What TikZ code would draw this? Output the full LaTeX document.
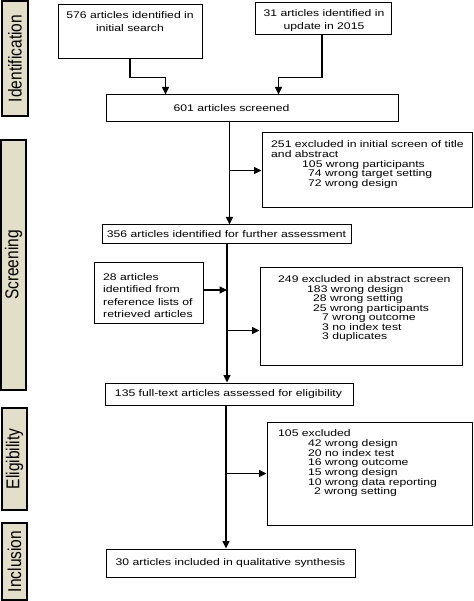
\documentclass[tikz,border=0pt]{standalone}
\usepackage{fontspec}
\setmainfont{Liberation Sans}[FakeStretch=1.27]
\newfontfamily\sidefont{Liberation Sans}
\usetikzlibrary{arrows.meta,calc}
\definecolor{barfill}{RGB}{226,222,200}
\begin{document}
\begin{tikzpicture}[x=1pt,y=-1pt,
  box/.style={draw=black,line width=1pt,inner sep=0pt,fill=white},
  txt/.style={inner sep=0pt,font=\fontsize{9.6}{9.7}\selectfont},
  bar/.style={draw=black,line width=1.4pt,fill=barfill,inner sep=0pt,rotate=90,
    font=\sidefont\fontsize{15.5}{15.5}\selectfont},
  arr/.style={line width=1.2pt,-{Triangle[length=7.5pt,width=7pt]}}]
\useasboundingbox (0,0) rectangle (473,601);
% phase bars
\node[bar,minimum width=115,minimum height=26] (idbar) at (15,58.5) {\scalebox{1}[1.2]{Identification}};
\node[bar,minimum width=250,minimum height=25] (scbar) at (13.5,265) {\scalebox{1}[1.2]{Screening}};
\node[bar,minimum width=102,minimum height=25] (elbar) at (14.5,459) {\scalebox{1}[1.2]{Eligibility}};
\node[bar,minimum width=77,minimum height=25] (inbar) at (14.5,561.5) {\scalebox{1}[1.2]{Inclusion}};
% boxes
\node[box,minimum width=144,minimum height=54] (A) at (130,32) {};
\node[txt,align=center,font=\fontsize{9.6}{13}\selectfont] (At) at (130,21.5) {576 articles identified in\\initial search};
\node[box,minimum width=136,minimum height=32] (B) at (323,19) {};
\node[txt,align=center,font=\fontsize{9.6}{13}\selectfont] (Bt) at (324,20.5) {31 articles identified in\\update in 2015};
\node[box,minimum width=292,minimum height=27] (C) at (252,108.5) {};
\node[txt] (Ct) at (231.5,108.5) {601 articles screened};
\node[box,minimum width=210,minimum height=75] (E) at (367,170.5) {};
\node[txt,align=left,anchor=north west] (Et) at (271,140.5) {251 excluded in initial screen of title\\and abstract\\\hspace*{31pt}105 wrong participants\\\hspace*{37pt}74 wrong target setting\\\hspace*{37pt}72 wrong design};
\node[box,minimum width=249,minimum height=18] (D) at (226.5,234) {};
\node[txt] (Dt) at (226.5,234) {356 articles identified for further assessment};
\node[box,minimum width=109,minimum height=61] (G) at (148.5,292.5) {};
\node[txt,align=left,anchor=north west,font=\fontsize{9.6}{12.3}\selectfont] (Gt) at (103,273.5) {28 articles\\identified from\\reference lists of\\retrieved articles};
\node[box,minimum width=202,minimum height=98] (H) at (361,316) {};
\node[txt,align=left,anchor=north west,font=\fontsize{9.6}{9.5}\selectfont] (Ht) at (278,275.5) {249 excluded in abstract screen\\\hspace*{29pt}183 wrong design\\\hspace*{35pt}28 wrong setting\\\hspace*{35pt}25 wrong participants\\\hspace*{44pt}7 wrong outcome\\\hspace*{44pt}3 no index test\\\hspace*{44pt}3 duplicates};
\node[box,minimum width=248,minimum height=22] (F) at (229,394) {};
\node[txt] (Ft) at (228.5,394) {135 full-text articles assessed for eligibility};
\node[box,minimum width=205,minimum height=103] (I) at (369.5,473.5) {};
\node[txt,align=left,anchor=north west] (It) at (278,429.5) {105 excluded\\\hspace*{30pt}42 wrong design\\\hspace*{30pt}20 no index test\\\hspace*{30pt}16 wrong outcome\\\hspace*{30pt}15 wrong design\\\hspace*{30pt}10 wrong data reporting\\\hspace*{36pt}2 wrong setting};
\node[box,minimum width=249,minimum height=28] (J) at (230.5,563) {};
\node[txt] (Jt) at (230.5,563) {30 articles included in qualitative synthesis};
% connectors
\coordinate (ca) at ($(C.north west)+(60,0)$);
\coordinate (cb) at ($(C.north west)+(173,0)$);
\draw[arr] (A.south) -- ++(0,18) -| (ca);
\draw[arr] ($(B.south)+(-1,0)$) -- ++(0,42) -| (cb);
\coordinate (c1) at ($(C.south west)+(124,0)$);
\draw[arr] (c1) -- (c1 |- D.north);
\draw[arr] (c1 |- E.west) -- (E.west);
\coordinate (d1) at ($(D.south)+(0.5,0)$);
\draw[arr] (d1) -- (d1 |- F.north);
\draw[arr] (G.east |- 0,290) -- (d1 |- 0,290);
\coordinate (hh) at ($(H.south west)+(0,-35)$);
\draw[arr] (d1 |- hh) -- (hh);
\coordinate (f1) at ($(F.south)+(-3,0)$);
\draw[arr] (f1) -- (f1 |- J.north);
\draw[arr] (f1 |- I.west) -- (I.west);
\end{tikzpicture}
\end{document}
